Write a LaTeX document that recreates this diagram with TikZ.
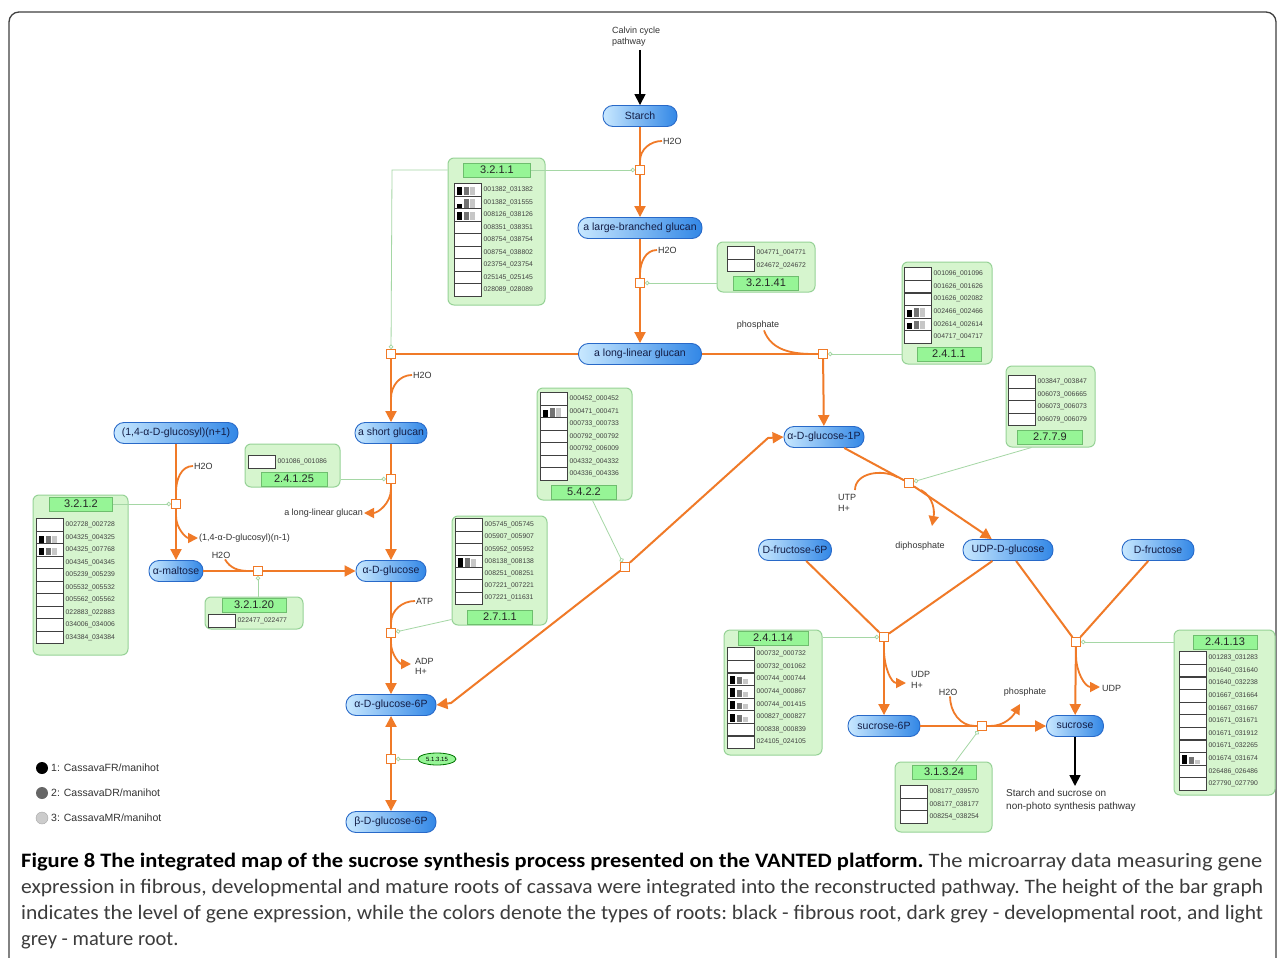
\documentclass[tikz,border=0pt]{standalone}
\usepackage{fontspec}
\setmainfont{Liberation Sans}
\newfontfamily\capfont{Carlito}
\usetikzlibrary{arrows.meta,calc,shapes.geometric}
\definecolor{orng}{RGB}{240,122,40}
\definecolor{metL}{RGB}{200,232,255}
\definecolor{metR}{RGB}{50,135,230}
\definecolor{metB}{RGB}{40,105,200}
\definecolor{metT}{RGB}{20,30,70}
\definecolor{enzF}{RGB}{214,245,206}
\definecolor{enzB}{RGB}{150,210,150}
\definecolor{tabF}{RGB}{150,245,150}
\definecolor{tabB}{RGB}{110,190,110}
\definecolor{lnkC}{RGB}{165,215,165}
\definecolor{capC}{RGB}{60,60,60}
\newcommand{\genes}[5]{%
  \foreach \gid [count=\gi] in {#5} {
    \pgfmathsetmacro{\gy}{#3+#4*(\gi-1)}
    \node[gbox] (#1\gi) at (#2,\gy) {};
    \node[gid] (#1t\gi) at (#2+15.5,\gy) {\gid};
  }}
\newcommand{\gbars}[4]{%
  \fill[black] ($(#1.south west)+(3,-1.6)$) rectangle ++(5,{-8.5*#2});
  \fill[black!55] ($(#1.south west)+(9.5,-1.6)$) rectangle ++(5,{-8.5*#3});
  \fill[black!22] ($(#1.south west)+(16,-1.6)$) rectangle ++(5,{-8.5*#4});}
\newcommand{\fitline}[2]{\resizebox{#1}{\height}{#2}}
\tikzset{
  met/.style={draw=metB, line width=0.9pt, rounded corners=10pt, minimum height=21pt,
    inner xsep=3pt, inner ysep=0pt, left color=metL, right color=metR, text=metT,
    font=\fontsize{10.5}{12}\selectfont},
  rxn/.style={draw=orng, fill=white, line width=1.4pt, minimum size=8.5pt, inner sep=0pt},
  fl/.style={draw=orng, line width=2pt},
  fla/.style={fl, -{Triangle[length=11pt,width=11pt]}},
  sd/.style={draw=orng, line width=1.8pt},
  sda/.style={sd, -{Triangle[length=10pt,width=10pt]}},
  enz/.style={draw=enzB, fill=enzF, rounded corners=6pt, line width=1pt, inner sep=0pt},
  tab/.style={draw=tabB, fill=tabF, line width=0.6pt, minimum height=14pt, inner sep=0pt,
    font=\fontsize{11}{12}\selectfont, text=black!85},
  gbox/.style={draw=black!75, fill=white, line width=0.8pt, minimum width=27pt,
    minimum height=12.5pt, inner sep=0pt},
  gid/.style={anchor=west, inner sep=0pt, font=\fontsize{6.8}{7}\selectfont, text=black!75},
  lnk/.style={draw=lnkC, line width=0.8pt},
  lnkc/.style={lnk, -{Circle[open,length=4.5pt,width=4.5pt,fill=white]}},
  lab/.style={inner sep=1pt, font=\fontsize{9}{10.5}\selectfont, text=black!80},
  blk/.style={draw=black, line width=1.6pt, -{Triangle[length=11pt,width=11pt]}},
  capline/.style={anchor=base west, inner sep=0pt, text=capC,
    font=\capfont\frenchspacing\fontsize{20.5}{26}\selectfont},
}
\begin{document}
\begin{tikzpicture}[x=1pt,y=-1pt]
\useasboundingbox (0,0) rectangle (1282,958);
\clip (0,0) rectangle (1282,958);
\fill[white] (0,0) rectangle (1282,958);
\draw[black!75, line width=1.3pt, rounded corners=10pt] (9,12) rectangle (1276,1000);

% ---------- enzyme boxes ----------
\node[enz, minimum width=97pt, minimum height=147pt] (e1) at (496.5,231.5) {};
\node[tab, minimum width=67pt] (e1t) at (497,170) {3.2.1.1};
\genes{a}{468}{190}{12.5}{001382\_031382,001382\_031555,008126\_038126,008351\_038351,008754\_038754,008754\_038802,023754\_023754,025145\_025145,028089\_028089}
\gbars{a1}{1}{1}{1}\gbars{a2}{0.45}{1}{1}\gbars{a3}{1}{1}{1}

\node[enz, minimum width=98pt, minimum height=50pt] (e2) at (766,267) {};
\node[tab, minimum width=65pt] (e2t) at (766,283) {3.2.1.41};
\genes{b}{741}{253}{12.5}{004771\_004771,024672\_024672}

\node[enz, minimum width=90pt, minimum height=102pt] (e3) at (947,313) {};
\node[tab, minimum width=64pt] (e3t) at (949,354) {2.4.1.1};
\genes{c}{918}{274}{12.6}{001096\_001096,001626\_001626,001626\_002082,002466\_002466,002614\_002614,004717\_004717}
\gbars{c4}{0.8}{1}{1}\gbars{c5}{0.8}{1}{1}

\node[enz, minimum width=95pt, minimum height=43pt] (e4) at (292.5,465.5) {};
\node[tab, minimum width=66pt] (e4t) at (294,479) {2.4.1.25};
\genes{d}{262}{462}{12.5}{001086\_001086}

\node[enz, minimum width=95pt, minimum height=160pt] (e5) at (80.5,575) {};
\node[tab, minimum width=63pt] (e5t) at (81,504) {3.2.1.2};
\genes{f}{50}{525}{12.5}{002728\_002728,004325\_004325,004325\_007768,004345\_004345,005239\_005239,005532\_005532,005562\_005562,022883\_022883,034006\_034006,034384\_034384}
\gbars{f2}{0.8}{0.8}{0.8}\gbars{f3}{0.8}{0.8}{0.8}

\node[enz, minimum width=98pt, minimum height=32pt] (e6) at (254,613) {};
\node[tab, minimum width=64pt] (e6t) at (254,605) {3.2.1.20};
\genes{g}{222}{621}{12.5}{022477\_022477}

\node[enz, minimum width=95pt, minimum height=112pt] (e7) at (584.5,444) {};
\node[tab, minimum width=65pt] (e7t) at (584,492) {5.4.2.2};
\genes{h}{554}{399}{12.5}{000452\_000452,000471\_000471,000733\_000733,000792\_000792,000792\_006009,004332\_004332,004336\_004336}
\gbars{h2}{0.8}{1}{1}

\node[enz, minimum width=95pt, minimum height=109pt] (e8) at (499.5,570.5) {};
\node[tab, minimum width=65pt] (e8t) at (500,617) {2.7.1.1};
\genes{k}{469}{525}{12.2}{005745\_005745,005907\_005907,005952\_005952,008138\_008138,008251\_008251,007221\_007221,007221\_011631}
\gbars{k4}{1}{1}{0.9}

\node[enz, minimum width=89pt, minimum height=81pt] (e9) at (1050.5,406.5) {};
\node[tab, minimum width=65pt] (e9t) at (1050,437) {2.7.7.9};
\genes{m}{1022}{382}{12.5}{003847\_003847,006073\_006665,006073\_006073,006079\_006079}

\node[enz, minimum width=98pt, minimum height=125pt] (e10) at (773,692.5) {};
\node[tab, minimum width=70pt] (e10t) at (773,638) {2.4.1.14};
\genes{n}{741}{654}{12.6}{000732\_000732,000732\_001062,000744\_000744,000744\_000867,000744\_001415,000827\_000827,000838\_000839,024105\_024105}
\gbars{n3}{1}{0.8}{0.6}\gbars{n4}{1}{0.8}{0.6}\gbars{n5}{1}{0.8}{0.6}\gbars{n6}{1}{0.8}{0.6}

\node[enz, minimum width=97pt, minimum height=70pt] (e11) at (943.5,797) {};
\node[tab, minimum width=64pt] (e11t) at (944,772) {3.1.3.24};
\genes{p}{914}{792}{12.5}{008177\_039570,008177\_038177,008254\_038254}

\node[enz, minimum width=101pt, minimum height=165pt] (e12) at (1224.5,712.5) {};
\node[tab, minimum width=64pt] (e12t) at (1225,642) {2.4.1.13};
\genes{q}{1193}{658}{12.6}{001283\_031283,001640\_031640,001640\_032238,001667\_031664,001667\_031667,001671\_031671,001671\_031912,001671\_032265,001674\_031674,026486\_026486,027790\_027790}
\gbars{q9}{1}{0.8}{0.5}

\node[ellipse, draw=green!45!black, fill=tabF, line width=0.8pt, minimum width=38pt,
  minimum height=12pt, inner sep=0pt, font=\fontsize{6}{6}\selectfont] (e13) at (437,759) {5.1.3.15};

% ---------- metabolites ----------
\node[met, minimum width=74pt] (starch) at (640,116) {Starch};
\node[met, minimum width=124pt] (lbg) at (640,228) {a large-branched glucan};
\node[met, minimum width=123pt] (llg) at (640,354) {a long-linear glucan};
\node[met, minimum width=70pt] (sg) at (391,433) {a short glucan};
\node[met, minimum width=124pt] (n1) at (176,433) {(1,4-α-D-glucosyl)(n+1)};
\node[met, minimum width=54pt] (malt) at (176,571) {α-maltose};
\node[met, minimum width=70pt] (glc) at (391,571) {α-D-glucose};
\node[met, minimum width=90pt] (g6p) at (391,705) {α-D-glucose-6P};
\node[met, minimum width=90pt] (b6p) at (391,822) {β-D-glucose-6P};
\node[met, minimum width=80pt] (g1p) at (824,437) {α-D-glucose-1P};
\node[met, minimum width=73pt] (f6p) at (795,550) {D-fructose-6P};
\node[met, minimum width=90pt] (udpg) at (1008,550) {UDP-D-glucose};
\node[met, minimum width=72pt] (fru) at (1158,550) {D-fructose};
\node[met, minimum width=72pt] (s6p) at (884,726) {sucrose-6P};
\node[met, minimum width=57pt] (suc) at (1075,726) {sucrose};

% ---------- reactions ----------
\node[rxn] (r1) at (640,170) {};
\node[rxn] (r2) at (640,283) {};
\node[rxn] (r3) at (391,354) {};
\node[rxn] (r4) at (823,354) {};
\node[rxn] (r5) at (391,479) {};
\node[rxn] (r6) at (176,504) {};
\node[rxn] (r7) at (258,571) {};
\node[rxn] (r8) at (391,633) {};
\node[rxn] (r9) at (391,759) {};
\node[rxn] (r10) at (625,567) {};
\node[rxn] (r11) at (909,483) {};
\node[rxn] (r12) at (884,637) {};
\node[rxn] (r13) at (982,726) {};
\node[rxn] (r14) at (1076,642) {};

% ---------- enzyme links ----------
\coordinate (c13) at (392,170);
\draw[lnkc] (e1t.east) -- (r1);
\draw[lnkc] (e1.west |- e1t) -- (c13) -- (r3);
\draw[lnkc] (e2.west |- r2) -- (r2);
\draw[lnkc] (e3.west |- r4) -- (r4);
\draw[lnkc] (e4.east |- r5) -- (r5);
\draw[lnkc] (e5t.east) -- (r6);
\draw[lnkc] (e6.north -| r7) -- (r7);
\draw[lnkc] ($(e8.south west)+(0,-6)$) -- (r8);
\draw[lnkc] (e13) -- (r9);
\draw[lnkc] ($(e7.south)+(8,0)$) -- (r10);
\draw[lnkc] ($(e9.south west)+(26,0)$) -- (r11);
\draw[lnkc] (e10.east |- r12) -- (r12);
\draw[lnkc] ($(e11.north)+(12,0)$) -- (r13);
\draw[lnkc] (e12.west |- r14) -- (r14);

% ---------- main flows ----------
\draw[fl] (starch) -- (r1); \draw[fla] (r1) -- (lbg);
\draw[fl] (lbg) -- (r2); \draw[fla] (r2) -- (llg);
\draw[fl] (llg) -- (r3); \draw[fla] (r3) -- (sg);
\draw[fl] (llg) -- (r4); \draw[fla] (r4) -- (g1p);
\draw[fl] (sg) -- (r5); \draw[fla] (r5) -- (glc);
\draw[fl] (n1) -- (r6); \draw[fla] (r6) -- (malt);
\draw[fl] (malt) -- (r7); \draw[fla] (r7) -- (glc);
\draw[fl] (glc) -- (r8); \draw[fla] (r8) -- (g6p);
\draw[fla] (r9) -- (g6p); \draw[fla] (r9) -- (b6p);
\draw[fla] (r10) -- (451,703) -- (g6p.east);
\draw[fla] (r10) -- (768,438) -- (g1p.west);
\draw[fl] (g1p) -- (r11); \draw[fla] (r11) -- (udpg);
\draw[fl] (f6p) -- (r12); \draw[fl] (udpg) -- (r12); \draw[fla] (r12) -- (s6p);
\draw[fl] (udpg) -- (r14); \draw[fl] (fru) -- (r14); \draw[fla] (r14) -- (suc);
\draw[fl] (s6p) -- (r13); \draw[fla] (r13) -- (suc);

% ---------- side substrates / products ----------
\node[lab, anchor=west] (h1) at (662,141) {H2O};
\coordinate (j1) at (640,161);
\draw[sd] (h1.west) to[out=180,in=90] (j1);
\node[lab, anchor=west] (h2) at (657,250) {H2O};
\coordinate (j2) at (640,274);
\draw[sd] (h2.west) to[out=180,in=90] (j2);
\node[lab, anchor=west] (h3) at (412,375) {H2O};
\coordinate (j3) at (391,398);
\draw[sd] (h3.west) to[out=180,in=90] (j3);
\node[lab] (ph1) at (758,325) {phosphate};
\coordinate (j4) at (814,354);
\draw[sd] ($(ph1.south)+(6,0)$) to[out=-70,in=180] (j4);
\coordinate (j5) at (391,489);
\node[lab, anchor=east] (p5) at (364,513) {a long-linear glucan};
\draw[sda] (j5) to[out=270,in=0] (p5.east);
\node[lab, anchor=west] (h6) at (193,466) {H2O};
\coordinate (j6) at (176,492);
\draw[sd] (h6.west) to[out=180,in=90] (j6);
\coordinate (k6) at (176,516);
\node[lab, anchor=west] (p6) at (198,538) {(1,4-α-D-glucosyl)(n-1)};
\draw[sda] (k6) to[out=270,in=180] (p6.west);
\node[lab] (h7) at (221,555) {H2O};
\coordinate (j7) at (249,571);
\draw[sd] ($(h7.south)+(4,0)$) to[out=-60,in=180] (j7);
\node[lab, anchor=west] (atp) at (415,601) {ATP};
\coordinate (j8) at (391,623);
\draw[sd] (atp.west) to[out=180,in=90] (j8);
\coordinate (k8) at (391,643);
\coordinate (t8) at (411,664);
\draw[sda] (k8) to[out=270,in=180] (t8);
\node[lab, anchor=north west, align=left] (p8) at (414,657) {ADP\\H+};
\node[lab, anchor=west, align=left] (p11a) at (837,503) {UTP\\H+};
\coordinate (s11) at (855,490);
\coordinate (j11) at (897,477);
\draw[sd] (s11) to[out=90,in=151] (j11);
\coordinate (k11) at (921,490);
\coordinate (t11) at (932,526);
\draw[sda] (k11) to[out=-29,in=80] (t11);
\node[lab] (p11b) at (920,546) {diphosphate};
\coordinate (k12) at (884,650);
\coordinate (t12) at (906,683);
\draw[sda] (k12) to[out=270,in=180] (t12);
\node[lab, anchor=west, align=left] (p12) at (910,680) {UDP\\H+};
\node[lab] (h13) at (948,692) {H2O};
\coordinate (j13) at (975,726);
\draw[sd] ($(h13.south)+(2,0)$) to[out=270,in=180] (j13);
\coordinate (k13) at (990,726);
\coordinate (t13) at (1020,704);
\draw[sda] (k13) to[out=0,in=240] (t13);
\node[lab] (p13) at (1025,692) {phosphate};
\coordinate (k14) at (1076,656);
\coordinate (t14) at (1100,687);
\draw[sda] (k14) to[out=270,in=180] (t14);
\node[lab, anchor=west] (p14) at (1101,688) {UDP};

% ---------- pathway in/out ----------
\node[lab, anchor=north west, align=left] (calvin) at (611,26) {Calvin cycle\\pathway};
\coordinate (cv) at (640,50);
\draw[blk] (cv) -- (starch);
\coordinate (sb) at (1075,786);
\draw[blk] (suc) -- (sb);
\node[lab, anchor=north west, align=left, font=\fontsize{10}{13}\selectfont] (nps) at (1005,788)
  {Starch and sucrose on\\non-photo synthesis pathway};

% ---------- legend ----------
\node[circle, fill=black, minimum size=12pt, inner sep=0pt] (l1) at (42,768) {};
\node[circle, fill=black!60, minimum size=12pt, inner sep=0pt] (l2) at (42,793) {};
\node[circle, fill=black!20, draw=black!35, minimum size=12pt, inner sep=0pt] (l3) at (42,818) {};
\node[lab, anchor=west, font=\fontsize{10.5}{12}\selectfont] (l1t) at (50,768) {1: CassavaFR/manihot};
\node[lab, anchor=west, font=\fontsize{10.5}{12}\selectfont] (l2t) at (50,793) {2: CassavaDR/manihot};
\node[lab, anchor=west, font=\fontsize{10.5}{12}\selectfont] (l3t) at (50,818) {3: CassavaMR/manihot};

% ---------- caption ----------
\node[capline] (cap1) at (21,867) {\fitline{1241pt}{\textbf{\color{black}Figure 8 The integrated map of the sucrose synthesis process presented on the VANTED platform.} The microarray data measuring gene}};
\node[capline] (cap2) at (21,893) {\fitline{1242pt}{expression in fibrous, developmental and mature roots of cassava were integrated into the reconstructed pathway. The height of the bar graph}};
\node[capline] (cap3) at (21,919) {\fitline{1242pt}{indicates the level of gene expression, while the colors denote the types of roots: black - fibrous root, dark grey - developmental root, and light}};
\node[capline] (cap4) at (21,945) {grey - mature root.};
\end{tikzpicture}
\end{document}
